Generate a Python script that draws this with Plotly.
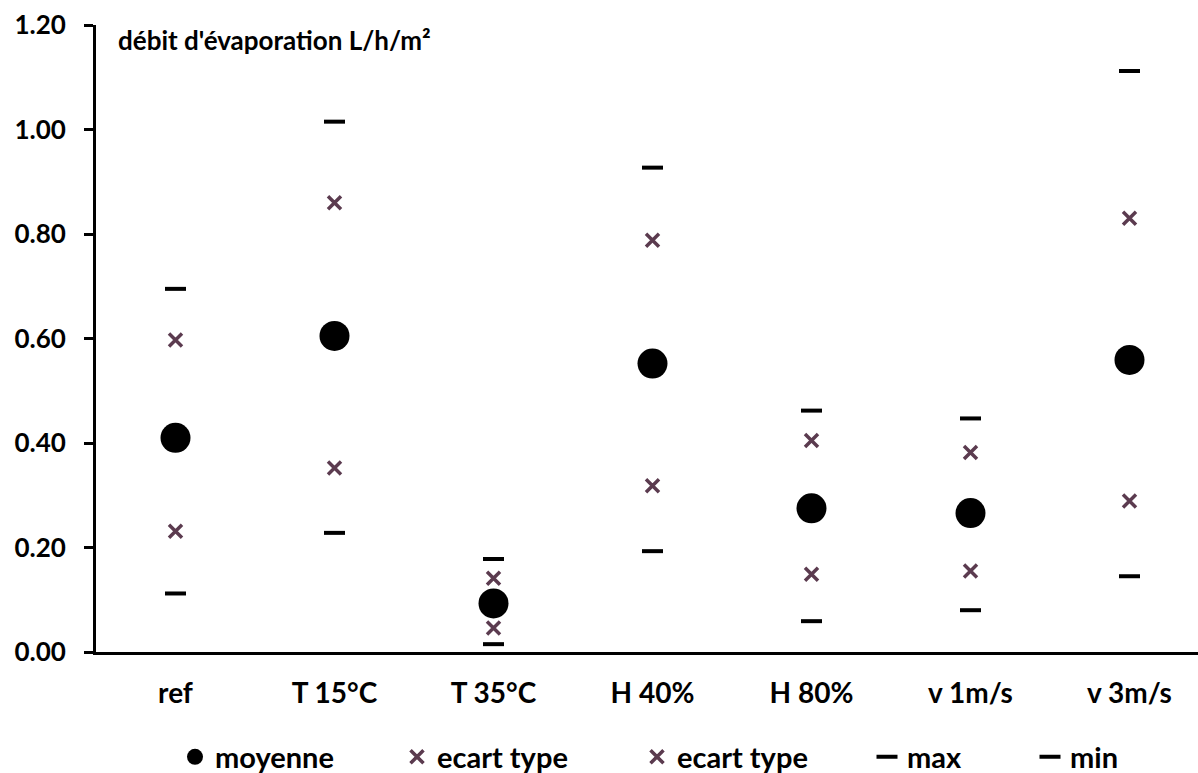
import plotly.graph_objects as go

# données
categories = ["ref", "T 15°C", "T 35°C", "H 40%", "H 80%", "v 1m/s", "v 3m/s"]
moyenne = [0.410, 0.605, 0.093, 0.552, 0.275, 0.266, 0.559]
ecart_haut = [0.597, 0.860, 0.141, 0.788, 0.405, 0.382, 0.830]
ecart_bas = [0.231, 0.352, 0.046, 0.318, 0.149, 0.155, 0.289]
val_max = [0.695, 1.015, 0.178, 0.927, 0.462, 0.447, 1.112]
val_min = [0.112, 0.228, 0.015, 0.193, 0.059, 0.080, 0.145]

FONT = "Lato"
CROSS = "#5b3b4f"

W, H = 1198, 773
L, T, B = 96, 25, 121
plot_w = W - L
plot_h = H - T - B


def px_x(p):
    return (p - L) / plot_w


def px_y(p):
    return (H - B - p) / plot_h


fig = go.Figure()

fig.add_trace(go.Scatter(
    x=categories, y=moyenne, mode="markers", name="moyenne",
    marker=dict(symbol="circle", size=30, color="black"),
    legend="legend"
))
fig.add_trace(go.Scatter(
    x=categories, y=ecart_haut, mode="markers", name="ecart type",
    marker=dict(symbol="x-thin", size=13, line=dict(color=CROSS, width=3.5)),
    legend="legend2"
))
fig.add_trace(go.Scatter(
    x=categories, y=ecart_bas, mode="markers", name="ecart type",
    marker=dict(symbol="x-thin", size=13, line=dict(color=CROSS, width=3.5)),
    legend="legend3"
))
fig.add_trace(go.Scatter(
    x=categories, y=val_max, mode="markers", name="max",
    marker=dict(symbol="line-ew", size=15, line=dict(color="black", width=4)),
    legend="legend4"
))
fig.add_trace(go.Scatter(
    x=categories, y=val_min, mode="markers", name="min",
    marker=dict(symbol="line-ew", size=15, line=dict(color="black", width=4)),
    legend="legend5"
))

leg_font = dict(family=FONT, size=29, color="black", weight="bold")


def leg(px):
    # position en pixels de la page (symbole)
    return dict(x=(px - 25) / W, y=(H - 757) / H, xref="container", yref="container",
                xanchor="left", yanchor="middle",
                orientation="h", font=leg_font, bgcolor="rgba(0,0,0,0)",
                itemwidth=30)


fig.update_layout(
    width=W, height=H,
    margin=dict(l=L, r=0, t=T, b=B),
    plot_bgcolor="white", paper_bgcolor="white",
    font=dict(family=FONT, color="black"),
    showlegend=True,
    legend=leg(200),
    legend2=leg(422),
    legend3=leg(662),
    legend4=leg(892),
    legend5=leg(1055),
)

fig.update_xaxes(
    type="category", range=[-0.5, (plot_w / 159.0) - 0.5],
    showline=True, linecolor="black", linewidth=3,
    showgrid=False, ticks="", zeroline=False,
    tickfont=dict(family=FONT, size=28, color="black", weight="bold"),
    ticklabelstandoff=14,
)
fig.update_yaxes(
    range=[0, 1.2], dtick=0.2, tickformat=".2f",
    showline=True, linecolor="black", linewidth=3,
    showgrid=False, zeroline=False,
    ticks="outside", ticklen=9, tickwidth=3, tickcolor="black",
    tickfont=dict(family=FONT, size=26, color="black", weight="bold"),
    ticklabelstandoff=13,
)

fig.add_annotation(
    text="débit d'évaporation L/h/m²", xref="paper", yref="paper",
    x=px_x(116), y=px_y(40), xanchor="left", yanchor="middle",
    showarrow=False, font=dict(family=FONT, size=26, color="black", weight="bold"),
)

fig.write_html("out.html", config={"displayModeBar": False},
               post_script="document.body.style.margin='0';")
